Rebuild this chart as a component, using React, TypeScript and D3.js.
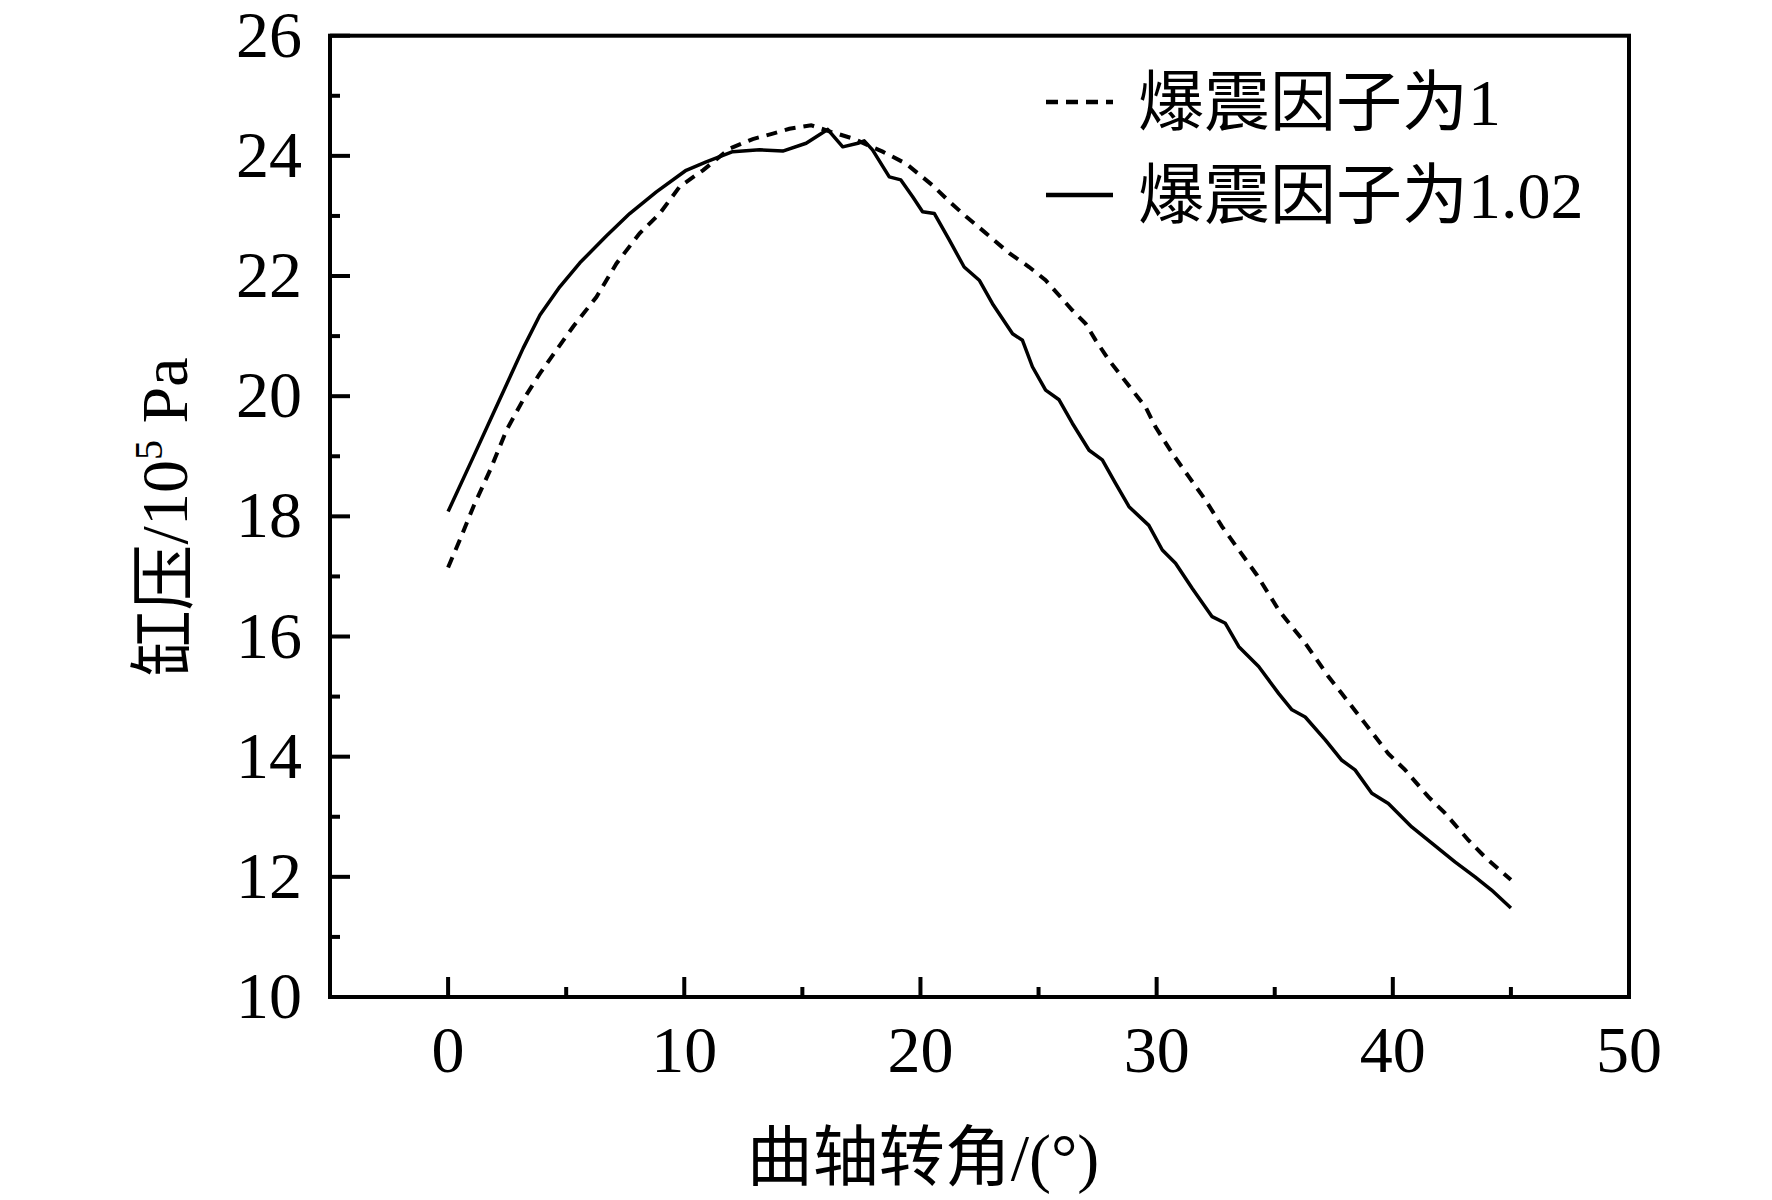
import React from "react";
import * as d3 from "d3";

// 爆震因子为1 (dashed)
const angle1 = [0, 0.5, 1.07, 1.78, 2.48, 3.18, 3.89, 4.59, 5.3, 6.28, 7.13, 8.11, 8.96, 9.81, 10.79, 11.92, 12.9, 13.75, 14.45, 15.37, 16.21, 17.13, 18.4, 19.39, 20.51, 21.22, 21.93, 22.63, 23.76, 24.6, 25.3, 26.43, 26.99, 27.42, 27.98, 28.97, 29.53, 29.95, 30.66, 31.36, 32.07, 32.77, 33.48, 34.25, 35.17, 35.73, 36.29, 37.28, 37.84, 38.83, 39.81, 40.52, 41.51, 42.21, 43.2, 43.9, 45];
const pressure1 = [17.15, 17.61, 18.16, 18.77, 19.44, 19.94, 20.38, 20.77, 21.16, 21.65, 22.21, 22.71, 23.04, 23.49, 23.76, 24.12, 24.28, 24.37, 24.45, 24.51, 24.4, 24.29, 24.07, 23.87, 23.51, 23.24, 22.99, 22.76, 22.38, 22.15, 21.93, 21.43, 21.21, 20.93, 20.6, 20.1, 19.82, 19.49, 19.05, 18.66, 18.27, 17.83, 17.44, 17.02, 16.44, 16.16, 15.89, 15.33, 15.05, 14.55, 14.05, 13.78, 13.33, 13.06, 12.61, 12.33, 11.95];

// 爆震因子为1.02 (solid)
const angle2 = [0, 1.07, 1.78, 2.48, 3.18, 3.89, 4.73, 5.58, 6.71, 7.69, 8.82, 10.08, 10.93, 12.05, 13.19, 14.17, 15.16, 16.07, 16.71, 17.35, 17.62, 17.97, 18.68, 19.17, 19.67, 20.09, 20.59, 21.22, 21.85, 22.49, 23.05, 23.9, 24.32, 24.74, 25.3, 25.87, 26.43, 27.14, 27.7, 28.26, 28.83, 29.67, 30.24, 30.8, 31.51, 32.35, 32.91, 33.48, 34.32, 35.17, 35.73, 36.29, 37.14, 37.84, 38.4, 39.11, 39.81, 40.8, 41.65, 42.63, 43.48, 44.18, 45];
const pressure2 = [18.08, 18.99, 19.6, 20.2, 20.8, 21.35, 21.82, 22.22, 22.67, 23.04, 23.4, 23.76, 23.9, 24.07, 24.1, 24.08, 24.21, 24.44, 24.15, 24.21, 24.25, 24.1, 23.65, 23.6, 23.32, 23.07, 23.04, 22.6, 22.15, 21.93, 21.54, 21.04, 20.93, 20.49, 20.1, 19.94, 19.55, 19.1, 18.94, 18.55, 18.16, 17.85, 17.44, 17.22, 16.8, 16.33, 16.22, 15.83, 15.5, 15.05, 14.78, 14.66, 14.28, 13.94, 13.78, 13.39, 13.22, 12.83, 12.56, 12.25, 12.0, 11.78, 11.48];

const xMajorTicks = [0, 10, 20, 30, 40, 50];
const xMinorTicks = [5, 15, 25, 35, 45];
const yMajorTicks = [10, 12, 14, 16, 18, 20, 22, 24, 26];
const yMinorTicks = [11, 13, 15, 17, 19, 21, 23, 25];

const legendLabels = ["爆震因子为1", "爆震因子为1.02"];
const xTitle = "曲轴转角/(°)";

const FONT = "'Liberation Serif', 'Times New Roman', 'Noto Sans CJK SC', serif";

export default function App() {
  const x = d3.scaleLinear().domain([-5, 50]).range([330, 1629]);
  const y = d3.scaleLinear().domain([10, 26]).range([997, 35.7]);
  const left = x(-5);
  const right = x(50);
  const top = y(26);
  const bottom = y(10);

  const line = d3
    .line<[number, number]>()
    .x((d) => x(d[0]))
    .y((d) => y(d[1]));

  const s1 = angle1.map((a, i) => [a, pressure1[i]] as [number, number]);
  const s2 = angle2.map((a, i) => [a, pressure2[i]] as [number, number]);

  return (
    <svg
      width={1772}
      height={1200}
      style={{ position: "absolute", left: 0, top: 0, background: "#fff" }}
      fontFamily={FONT}
    >
      <rect x={0} y={0} width={1772} height={1200} fill="#fff" />
      {/* curves */}
      <path d={line(s1) || ""} fill="none" stroke="#000" strokeWidth={4} strokeDasharray="11,8" />
      <path d={line(s2) || ""} fill="none" stroke="#000" strokeWidth={3.5} strokeLinejoin="round" />

      {/* frame */}
      <rect x={left} y={top} width={right - left} height={bottom - top} fill="none" stroke="#000" strokeWidth={4} />

      {/* x ticks */}
      {xMajorTicks.map((t) => (
        <g key={"xm" + t}>
          <line x1={x(t)} x2={x(t)} y1={bottom} y2={bottom - 20} stroke="#000" strokeWidth={4} />
          <text x={x(t)} y={bottom + 75} fontSize={66} textAnchor="middle" fill="#000">
            {t}
          </text>
        </g>
      ))}
      {xMinorTicks.map((t) => (
        <line key={"xn" + t} x1={x(t)} x2={x(t)} y1={bottom} y2={bottom - 10} stroke="#000" strokeWidth={4} />
      ))}

      {/* y ticks */}
      {yMajorTicks.map((t) => (
        <g key={"ym" + t}>
          <line x1={left} x2={left + 20} y1={y(t)} y2={y(t)} stroke="#000" strokeWidth={4} />
          <text x={302} y={y(t) + 21} fontSize={66} textAnchor="end" fill="#000">
            {t}
          </text>
        </g>
      ))}
      {yMinorTicks.map((t) => (
        <line key={"yn" + t} x1={left} x2={left + 10} y1={y(t)} y2={y(t)} stroke="#000" strokeWidth={4} />
      ))}

      {/* axis titles */}
      <text x={923} y={1180} fontSize={66} textAnchor="middle" fill="#000">
        {xTitle}
      </text>
      <text transform="translate(187,517) rotate(-90)" fontSize={66} textAnchor="middle" fill="#000">
        缸压/10
        <tspan fontSize={40} dy={-25}>5</tspan>
        <tspan dy={25}> Pa</tspan>
      </text>

      {/* legend */}
      <line x1={1046} x2={1113} y1={102} y2={102} stroke="#000" strokeWidth={4.5} strokeDasharray="12,8" />
      <text x={1138} y={102} fontSize={66} dominantBaseline="central" fill="#000">
        {legendLabels[0]}
      </text>
      <line x1={1046} x2={1113} y1={195} y2={195} stroke="#000" strokeWidth={4.5} />
      <text x={1138} y={195} fontSize={66} dominantBaseline="central" fill="#000">
        {legendLabels[1]}
      </text>
    </svg>
  );
}
